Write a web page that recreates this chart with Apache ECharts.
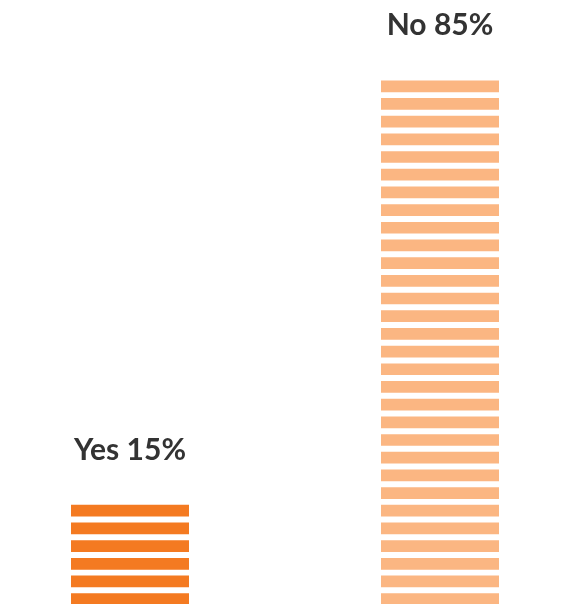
<!DOCTYPE html>
<html>
<head>
<meta charset="utf-8">
<script src="https://cdn.jsdelivr.net/npm/echarts@6/dist/echarts.min.js"></script>
<style>
  html, body { margin: 0; padding: 0; background: #ffffff; }
  #chart { width: 564px; height: 604px; }
</style>
</head>
<body>
<div id="chart"></div>
<script>
// Survey answers and their shares (percent)
const categories = ['Yes', 'No'];
const shares = [15, 85];
const stripeColors = ['#F47A21', '#FBB682'];

const chart = echarts.init(document.getElementById('chart'), null, { renderer: 'canvas' });

chart.setOption({
  animation: false,
  backgroundColor: '#ffffff',
  grid: {
    left: -25, right: -31, top: -8, bottom: -1,
    outerBoundsMode: 'none',
    containLabel: false
  },
  xAxis: {
    type: 'category',
    data: categories,
    show: false
  },
  yAxis: {
    type: 'value',
    min: 0,
    max: 100,
    show: false
  },
  series: [{
    type: 'pictorialBar',
    symbol: 'rect',
    // stripes are laid out over the whole value range, then cut at each value
    symbolRepeat: true,
    symbolSize: [118, 11.7],
    symbolMargin: 3.1,
    data: shares.map((v, i) => ({
      value: v,
      itemStyle: { color: stripeColors[i] }
    })),
    label: {
      show: true,
      position: 'top',
      distance: 40,
      fontFamily: 'Lato',
      fontWeight: 'bold',
      fontSize: 30,
      color: '#333333',
      formatter: p => categories[p.dataIndex] + ' ' + p.value + '%'
    }
  }]
});
</script>
</body>
</html>
